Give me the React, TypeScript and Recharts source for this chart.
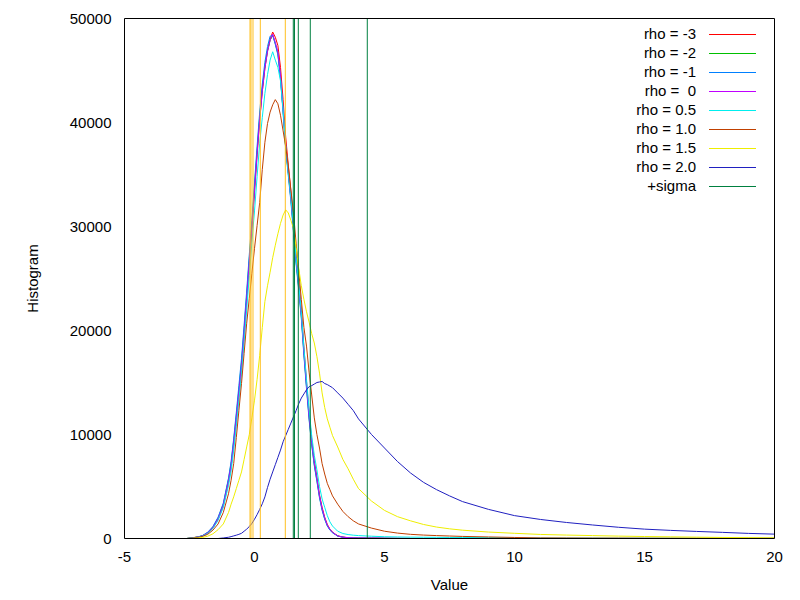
import React from 'react';
import { LineChart, Line, XAxis, YAxis, ReferenceLine } from 'recharts';

// x positions of histogram samples
const X_VALUES = [
  -2.6, -2.4, -2.2, -2.0, -1.8, -1.6, -1.4, -1.2,
  -1.0, -0.9, -0.8, -0.7, -0.6, -0.5, -0.4, -0.3, -0.2, -0.1,
  0.0, 0.1, 0.2, 0.3, 0.4, 0.5, 0.6, 0.7, 0.8, 0.9,
  1.0, 1.1, 1.2, 1.3, 1.4, 1.5, 1.6, 1.7, 1.8, 1.9,
  2.0, 2.1, 2.2, 2.3, 2.4, 2.5, 2.6, 2.7, 2.8, 2.9, 3.0,
  3.2, 3.4, 3.6, 3.8, 4.0,
  4.5, 5, 5.5, 6, 6.5, 7, 7.5, 8,
  9, 10, 11, 12, 13, 14, 15, 16, 17, 18, 19, 20,
];

const RHO_M3 = [
  0, 60, 150, 230, 520, 1000, 1850, 3100,
  5400, 6900, 9000, 11400, 13900, 16400, 19600, 22900, 26400, 29700,
  33300, 36900, 40200, 43000, 45200, 46900, 48000, 48700, 48200, 47400,
  45300, 42200, 38600, 35900, 33400, 30400, 27400, 24800, 22000, 18400,
  15100, 12100, 9500, 7500, 5900, 4200, 3000, 2050, 1350, 900, 600,
  260, 140, 80, 50, 40,
  30, 20, 10, 5, null, null, null, null,
  null, null, null, null, null, null, null, null, null, null, null, null,
];

const RHO_M2 = [
  10, 70, 130, 270, 580, 1100, 1980, 3300,
  5700, 7200, 9400, 11800, 14300, 16900, 20100, 23400, 26900, 30200,
  33800, 37300, 40600, 43300, 45400, 46900, 47900, 48400, 47600, 46600,
  44300, 41100, 37600, 35100, 32600, 29600, 26600, 24100, 21400, 17800,
  14600, 11600, 9100, 7100, 5600, 4000, 2800, 1900, 1250, 850, 580,
  240, 120, 70, 50, 40,
  30, 20, 10, 5, null, null, null, null,
  null, null, null, null, null, null, null, null, null, null, null, null,
];

const RHO_M1 = [
  0, 50, 140, 280, 600, 1150, 2050, 3400,
  5800, 7400, 9600, 12100, 14700, 17300, 20500, 23800, 27300, 30600,
  34200, 37700, 41000, 43700, 45800, 47300, 48300, 48400, 47500, 46500,
  44200, 40900, 37400, 34900, 32400, 29400, 26400, 23900, 21200, 17600,
  14400, 11400, 9000, 7000, 5500, 3900, 2700, 1850, 1200, 800, 550,
  230, 120, 70, 50, 40,
  30, 20, 10, 5, null, null, null, null,
  null, null, null, null, null, null, null, null, null, null, null, null,
];

const RHO_0 = [
  0, 40, 120, 250, 550, 1050, 1900, 3200,
  5500, 7000, 9100, 11500, 14000, 16500, 19700, 23000, 26500, 29800,
  33400, 37000, 40300, 43000, 45200, 46800, 47900, 48500, 47700, 46800,
  44500, 41300, 37800, 35300, 32800, 29800, 26800, 24300, 21600, 18000,
  14800, 11800, 9300, 7300, 5800, 4100, 2900, 2000, 1300, 900, 600,
  250, 130, 80, 60, 50,
  40, 30, 20, 10, null, null, null, null,
  null, null, null, null, null, null, null, null, null, null, null, null,
];

const RHO_05 = [
  0, 30, 100, 220, 480, 950, 1750, 3000,
  5100, 6500, 8500, 10800, 13300, 15800, 18900, 22000, 25300, 28500,
  31500, 34800, 38000, 40500, 42800, 44600, 46000, 46800, 46000, 45300,
  44000, 41200, 37800, 35200, 32800, 30000, 27000, 24500, 21800, 18400,
  15300, 12400, 9900, 8000, 6600, 5000, 3800, 3000, 2200, 1600, 1200,
  700, 480, 380, 320, 280,
  220, 170, 150, 130, 120, 110, 100, 100,
  90, 70, 50, 40, 40, 30, 30, 30, 20, 20, 20, 20,
];

const RHO_10 = [
  0, 30, 90, 200, 400, 800, 1400, 2500,
  4300, 5600, 7200, 9700, 12300, 14900, 17800, 20700, 23100, 25500,
  27900, 30100, 32300, 35500, 38100, 39900, 41000, 41700, 42200, 41800,
  40700, 39200, 37700, 35800, 33500, 31300, 28400, 25800, 23000, 20300,
  18500, 16000, 13800, 11600, 10000, 8700, 7200, 6200, 5300, 4700, 4100,
  3300, 2600, 2100, 1700, 1400,
  1000, 700, 520, 400, 330, 280, 240, 200,
  150, 100, 60, 50, 40, 40, 30, 30, 30, 30, 30, 30,
];

const RHO_15 = [
  0, 10, 40, 100, 220, 450, 850, 1400,
  2500, 3300, 4000, 4800, 5600, 6400, 7600, 8800, 10000, 11600,
  13300, 15300, 17600, 20300, 22800, 24300, 25600, 27000, 28200, 29300,
  30300, 31100, 31600, 31300, 30600, 29800, 28000, 26000, 24300, 23000,
  21800, 20800, 19700, 18800, 17500, 15900, 14000, 12600, 11500, 10700, 9900,
  8800, 7600, 6700, 5700, 4800,
  3600, 2700, 2100, 1700, 1350, 1100, 930, 800,
  620, 500, 390, 330, 280, 230, 190, 160, 130, 100, 80, 60,
];

const RHO_20 = [
  null, null, null, null, null, null, 0, 50,
  120, 180, 250, 320, 400, 500, 700, 900, 1150, 1450,
  1850, 2300, 2800, 3340, 4000, 4900, 5700, 6400, 7100, 7800,
  8500, 9300, 9900, 10500, 11100, 11700, 12300, 12950, 13500, 13900,
  14300, 14600, 14700, 14850, 15000, 15050, 15100, 14900, 14800, 14650, 14500,
  14000, 13500, 12900, 12300, 11500,
  10000, 8700, 7400, 6300, 5400, 4700, 4100, 3550,
  2800, 2200, 1830, 1540, 1300, 1080, 900, 780, 680, 590, 490, 420,
];

// vertical marker lines
const MEAN_LINES = [-0.173, -0.135, -0.058, 0.223, 1.185];
const SIGMA_LINES = [1.492, 1.538, 1.685, 2.146, 4.338];

const X_TICKS = [-5, 0, 5, 10, 15, 20];
const Y_TICKS = [0, 10000, 20000, 30000, 40000, 50000];

const SERIES_NAMES = ['rho = -3', 'rho = -2', 'rho = -1', 'rho =  0', 'rho = 0.5', 'rho = 1.0', 'rho = 1.5', 'rho = 2.0'];
const SERIES_KEYS = ['m3', 'm2', 'm1', 'z0', 'p05', 'p10', 'p15', 'p20'];
const SERIES_COLORS = ['#ff0000', '#00c000', '#0080ff', '#c000ff', '#00eeee', '#c04000', '#eeee00', '#2020c0'];
const SERIES_VALUES = [RHO_M3, RHO_M2, RHO_M1, RHO_0, RHO_05, RHO_10, RHO_15, RHO_20];
const SIGMA_NAME = '+sigma';
const SIGMA_COLOR = '#008040';
const MEAN_COLOR = '#ffc020';

const data = X_VALUES.map((x, i) => {
  const row: Record<string, number | null> = { x };
  SERIES_KEYS.forEach((k, s) => {
    row[k] = SERIES_VALUES[s][i];
  });
  return row;
});

const FONT = '"Liberation Sans", Arial, sans-serif';
const FS = 15;

const legendItems = [
  ...SERIES_NAMES.map((n, i) => ({ name: n, color: SERIES_COLORS[i] })),
  { name: SIGMA_NAME, color: SIGMA_COLOR },
];

export default function App() {
  return (
    <div style={{ position: 'absolute', left: 0, top: 0, width: 800, height: 600, background: '#fff' }}>
      <LineChart
        width={800}
        height={600}
        data={data}
        margin={{ top: 18.5, right: 25.5, bottom: 5.5, left: 0 }}
        style={{ fontFamily: FONT }}
      >
        <XAxis
          xAxisId="x"
          dataKey="x"
          type="number"
          domain={[-5, 20]}
          ticks={X_TICKS}
          allowDataOverflow
          height={56}
          axisLine={{ stroke: '#000' }}
          tickLine={false}
          tickSize={0}
          tickMargin={13}
          tick={{ fill: '#000', fontSize: FS, fontFamily: FONT }}
          label={{ value: 'Value', position: 'insideBottom', offset: 5, fill: '#000', fontSize: FS, fontFamily: FONT }}
        />
        <XAxis
          xAxisId="xb"
          dataKey="x"
          type="number"
          domain={[-5, 20]}
          ticks={X_TICKS}
          allowDataOverflow
          mirror
          axisLine={false}
          tickLine={{ stroke: '#000' }}
          tickSize={6}
          tick={false}
        />
        <XAxis
          xAxisId="xt"
          dataKey="x"
          type="number"
          orientation="top"
          domain={[-5, 20]}
          ticks={X_TICKS}
          allowDataOverflow
          mirror
          axisLine={{ stroke: '#000' }}
          tickLine={{ stroke: '#000' }}
          tickSize={6}
          tick={false}
        />
        <YAxis
          yAxisId="y"
          type="number"
          domain={[0, 50000]}
          ticks={Y_TICKS}
          allowDataOverflow
          width={124.5}
          axisLine={{ stroke: '#000' }}
          tickLine={false}
          tickSize={0}
          tickMargin={13}
          tick={{ fill: '#000', fontSize: FS, fontFamily: FONT }}
          label={{
            value: 'Histogram',
            angle: -90,
            position: 'insideLeft',
            offset: 33,
            fill: '#000',
            fontSize: FS,
            fontFamily: FONT,
            style: { textAnchor: 'middle' },
          }}
        />
        <YAxis
          yAxisId="yl"
          type="number"
          domain={[0, 50000]}
          ticks={Y_TICKS}
          allowDataOverflow
          mirror
          axisLine={false}
          tickLine={{ stroke: '#000' }}
          tickSize={6}
          tick={false}
        />
        <YAxis
          yAxisId="yr"
          type="number"
          orientation="right"
          domain={[0, 50000]}
          ticks={Y_TICKS}
          allowDataOverflow
          mirror
          axisLine={{ stroke: '#000' }}
          tickLine={{ stroke: '#000' }}
          tickSize={6}
          tick={false}
        />
        {SERIES_KEYS.map((k, i) => (
          <Line
            key={k}
            xAxisId="x"
            yAxisId="y"
            dataKey={k}
            name={SERIES_NAMES[i]}
            type="linear"
            stroke={SERIES_COLORS[i]}
            strokeWidth={1}
            dot={false}
            activeDot={false}
            isAnimationActive={false}
          />
        ))}
        {MEAN_LINES.map((v, i) => (
          <ReferenceLine key={'m' + i} xAxisId="x" yAxisId="y" x={v} stroke={MEAN_COLOR} strokeWidth={1} />
        ))}
        {SIGMA_LINES.map((v, i) => (
          <ReferenceLine key={'s' + i} xAxisId="x" yAxisId="y" x={v} stroke={SIGMA_COLOR} strokeWidth={1} />
        ))}
        <g>
          {legendItems.map((it, i) => (
            <g key={it.name}>
              <text
                x={696}
                y={39 + i * 19}
                textAnchor="end"
                fill="#000"
                fontSize={FS}
                fontFamily={FONT}
                style={{ whiteSpace: 'pre' }}
              >
                {it.name}
              </text>
              <line x1={709} x2={756} y1={34.5 + i * 19} y2={34.5 + i * 19} stroke={it.color} strokeWidth={1} />
            </g>
          ))}
        </g>
      </LineChart>
    </div>
  );
}
